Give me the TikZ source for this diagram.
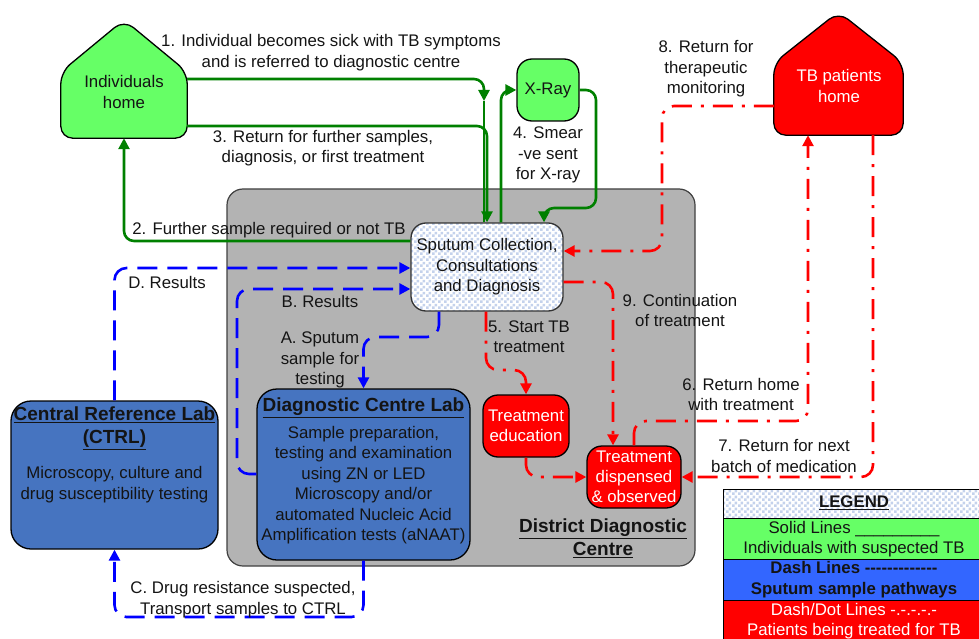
\documentclass[tikz,border=0pt]{standalone}
\usepackage{fontspec}
\setmainfont{Liberation Sans}[Ligatures=TeXOff]
\usetikzlibrary{arrows.meta,patterns,patterns.meta}
\definecolor{homegreen}{RGB}{102,255,102}
\definecolor{linegreen}{RGB}{0,128,0}
\definecolor{labblue}{RGB}{70,116,192}
\definecolor{legblue}{RGB}{51,102,255}
\definecolor{boxgrey}{RGB}{179,179,179}
\definecolor{chk}{RGB}{196,210,236}
\definecolor{ink}{RGB}{20,20,20}
% checkerboard with 3pt squares
\tikzdeclarepattern{
  name=bigchecker,
  type=uncolored,
  bounding box={(0pt,0pt) and (6pt,6pt)},
  tile size={(6pt,6pt)},
  code={
    \fill (0pt,0pt) rectangle (3pt,3pt);
    \fill (3pt,3pt) rectangle (6pt,6pt);
  }
}
\begin{document}
\begin{tikzpicture}[x=1pt,y=-1pt,
  every node/.style={font=\fontsize{16.8}{20.5}\selectfont, text=ink, inner sep=0pt, align=center},
  tip/.style={-{Triangle[length=11pt,width=11pt]}},
  gline/.style={draw=linegreen, line width=2.6pt, rounded corners=10pt},
  bline/.style={draw=blue, line width=2.6pt, dash pattern=on 20pt off 10pt, rounded corners=12pt},
  rline/.style={draw=red, line width=2.6pt, dash pattern=on 20pt off 9pt on 3pt off 9pt, rounded corners=12pt},
  box/.style={draw=black, line width=1.3pt, rectangle},
  checker/.style={preaction={fill=white}, pattern=bigchecker, pattern color=chk},
  titlefont/.style={font=\fontsize{19}{23}\selectfont\bfseries},
  legtext/.style={font=\fontsize{16.8}{20.5}\selectfont}
]
\useasboundingbox (0,0) rectangle (979,639);
\clip (0,0) rectangle (979,639);

% District Diagnostic Centre container
\node (ddc) [draw=black!75, line width=1.2pt, fill=boxgrey, rounded corners=16pt,
  minimum width=468pt, minimum height=377pt] at (461,377.5) {};
\node [titlefont] at (603,538.5) {\underline{District Diagnostic}\\\underline{Centre}};

% Homes (outline areas as nodes, house shapes drawn on their anchors)
\node (indhome) [minimum width=126pt, minimum height=118pt] at (124,79) {};
\draw [fill=homegreen, line width=1.3pt, rounded corners=12pt]
  (indhome.south) -- (indhome.south west) -- (indhome.west |- 0,72) -- (indhome.north)
  -- (indhome.east |- 0,72) -- (indhome.south east) -- cycle;
\node at (124,92) {Individuals\\home};

\node (tbhome) [minimum width=129pt, minimum height=123pt] at (838.5,73.5) {};
\draw [fill=red, line width=1.3pt, rounded corners=12pt]
  (tbhome.south) -- (tbhome.south west) -- (tbhome.west |- 0,63) -- (tbhome.north)
  -- (tbhome.east |- 0,63) -- (tbhome.south east) -- cycle;
\node [text=white] at (839,86) {TB patients\\home};

% Boxes
\node (xray) [box, fill=homegreen, rounded corners=15pt, minimum width=62pt, minimum height=62pt]
  at (548,90) {X-Ray};
\node (sputum) [box, draw=black!80, checker, rounded corners=15pt, minimum width=152pt, minimum height=88pt]
  at (487,267) {Sputum Collection,\\Consultations\\and Diagnosis};
\node (dcl) [box, fill=labblue, rounded corners=20pt, minimum width=213pt, minimum height=171pt]
  at (363.5,474.5) {};
\node [titlefont] at (363.5,408) {\underline{Diagnostic Centre Lab}};
\node at (363.5,485) {Sample preparation,\\testing and examination\\using ZN or LED\\Microscopy and/or\\automated Nucleic Acid\\Amplification tests (aNAAT)};
\node (crl) [box, fill=labblue, rounded corners=20pt, minimum width=207pt, minimum height=148pt]
  at (114.5,475) {};
\node [titlefont] at (114.5,428.5) {\underline{Central Reference Lab}\\\underline{(CTRL)}};
\node at (114.5,484.5) {Microscopy, culture and\\drug susceptibility testing};
\node (edu) [box, fill=red, text=white, rounded corners=15pt, minimum width=86pt, minimum height=62pt]
  at (526,426) {Treatment\\education};
\node (disp) [box, fill=red, text=white, rounded corners=15pt, minimum width=94pt, minimum height=62pt,
  font=\fontsize{16.8}{20}\selectfont] at (634,477) {Treatment\\dispensed\\\& observed};

% Solid pathways: individuals with suspected TB
\coordinate (g1) at (484,101);
\draw [gline, tip] (indhome.east) -| (g1);
\draw [gline] (g1) -- (sputum.north -| g1);
\draw [gline, tip] (indhome.east |- 0,126) -| (sputum.north);
\draw [gline, tip] (sputum.west |- 0,241) -| (indhome.south);
\draw [gline, tip] (sputum.north -| 501,0) |- (xray.west);
\draw [gline, tip] (xray.east) -| (596,208) -| (sputum.north -| 544,0);

% Dashed pathways: sputum samples
\draw [bline, tip] (crl.north) |- (sputum.west |- 0,268);
\draw [bline, tip] (dcl.west |- 0,474) -| (237,289) -- (sputum.west |- 0,289);
\draw [bline, tip] (sputum.south -| 439,0) |- (dcl.north |- 0,337) -- (dcl.north);
\draw [bline, tip] (dcl.south) |- (crl.south |- 0,617) -- (crl.south);

% Dash-dot pathways: patients on treatment
\draw [rline, tip] (tbhome.west |- 0,106) -| (662,251) -- (sputum.east |- 0,251);
\draw [rline, tip] (sputum.east |- 0,282) -| (disp.north -| 613,0);
\draw [rline, tip] (sputum.south -| 486,0) |- (edu.north |- 0,370) -- (edu.north);
\draw [rline, tip] (edu.south) |- (disp.west);
\draw [rline, tip] (disp.north) |- (808,421) -- (tbhome.south -| 808,0);
\draw [rline, tip] (tbhome.south -| 873,0) |- (disp.east);

% Connector labels
\node at (331,52.5) {1. Individual becomes sick with TB symptoms\\and is referred to diagnostic centre};
\node at (269,230) {2. Further sample required or not TB};
\node at (323,148) {3. Return for further samples,\\diagnosis, or first treatment};
\node at (548,155) {4. Smear\\-ve sent\\for X-ray};
\node at (529,336.5) {5. Start TB\\treatment};
\node at (741,394.5) {6. Return home\\with treatment};
\node at (784,456) {7. Return for next\\batch of medication};
\node at (706,69) {8. Return for\\therapeutic\\monitoring};
\node at (680,310.5) {9. Continuation\\of treatment};
\node at (320,360) {A. Sputum\\sample for\\testing};
\node at (320,301) {B. Results};
\node at (243,599.5) {C. Drug resistance suspected,\\Transport samples to CTRL};
\node at (167,282) {D. Results};

% Legend
\node (leghead) [box, checker, minimum width=267pt, minimum height=29pt, anchor=north west] at (723,489) {};
\node (leggreen) [box, fill=homegreen, minimum width=267pt, minimum height=41pt, anchor=north west] at (723,518) {};
\node (legblue) [box, fill=legblue, minimum width=267pt, minimum height=41pt, anchor=north west] at (723,559) {};
\node (legred) [box, fill=red, minimum width=267pt, minimum height=45pt, anchor=north west] at (723,600) {};
\node [legtext, font=\fontsize{16.8}{20.5}\selectfont\bfseries] at (854,503) {\underline{LEGEND}};
\node [legtext] at (854,539) {Solid Lines \_\_\_\_\_\_\_\_\_\\Individuals with suspected TB};
\node [legtext, font=\fontsize{16.8}{20.5}\selectfont\bfseries] at (854,579.5) {Dash Lines -------------\\Sputum sample pathways};
\node [legtext, text=white] at (854,621) {Dash/Dot Lines -.-.-.-.-\\Patients being treated for TB};
\end{tikzpicture}
\end{document}
